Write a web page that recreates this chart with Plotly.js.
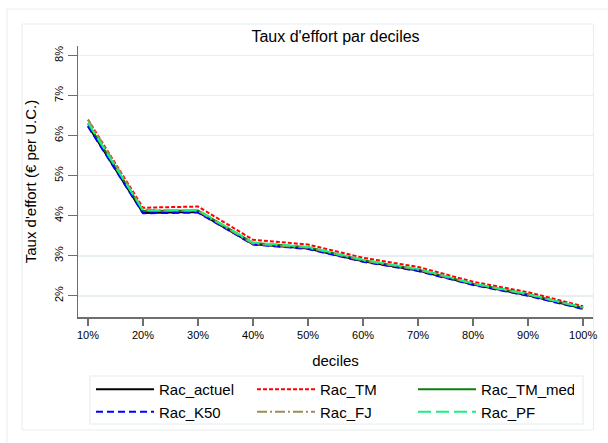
<!DOCTYPE html>
<html>
<head>
<meta charset="utf-8">
<script src="https://cdn.plot.ly/plotly-3.0.1.min.js"></script>
<style>
html,body{margin:0;padding:0;background:#fff;}
#chart{width:608px;height:443px;}
</style>
</head>
<body>
<div id="chart"></div>
<script>
// Data (percent)
var deciles = [10, 20, 30, 40, 50, 60, 70, 80, 90, 100];
var decileLabels = ['10%', '20%', '30%', '40%', '50%', '60%', '70%', '80%', '90%', '100%'];
var seriesNames = ['Rac_actuel', 'Rac_TM', 'Rac_TM_med', 'Rac_K50', 'Rac_FJ', 'Rac_PF'];
var Rac_actuel = [6.25, 4.07, 4.09, 3.29, 3.18, 2.86, 2.63, 2.28, 2.01, 1.68];
var Rac_TM     = [6.40, 4.20, 4.23, 3.40, 3.28, 2.95, 2.72, 2.35, 2.09, 1.74];
var Rac_TM_med = [6.30, 4.12, 4.13, 3.32, 3.21, 2.89, 2.66, 2.30, 2.04, 1.70];
var Rac_K50    = [6.23, 4.06, 4.08, 3.28, 3.17, 2.85, 2.62, 2.27, 2.00, 1.67];
var Rac_FJ     = [6.40, 4.15, 4.12, 3.30, 3.20, 2.88, 2.65, 2.30, 2.03, 1.70];
var Rac_PF     = [6.32, 4.13, 4.14, 3.33, 3.22, 2.90, 2.67, 2.31, 2.04, 1.71];
var yTicks = [2, 3, 4, 5, 6, 7, 8];
var yTickLabels = ['2%', '3%', '4%', '5%', '6%', '7%', '8%'];

var values = [Rac_actuel, Rac_TM, Rac_TM_med, Rac_K50, Rac_FJ, Rac_PF];
var colors = ['#000000', '#ff0000', '#0a800a', '#0000ff', '#a08c5a', '#19f07f'];
var dashes = ['solid', '4px,2px', 'solid', '7px,4px', '10px,3px,2px,3px', '13px,5px'];

var traces = seriesNames.map(function (name, i) {
  return {
    x: deciles, y: values[i], name: name, type: 'scatter', mode: 'lines',
    line: {color: colors[i], width: 2, dash: dashes[i]}
  };
});

// pixel -> paper helpers for decorative frames
var L = 78, R = 15, T = 46, B = 126, W = 608, H = 443;
var pw = W - L - R, ph = H - T - B;
function px(x) { return (x - L) / pw; }
function py(y) { return (H - B - y) / ph; }

var frameColor = '#e8eeee';
var layout = {
  width: W, height: H,
  margin: {l: L, r: R, t: T, b: B, pad: 0, autoexpand: false},
  paper_bgcolor: '#ffffff', plot_bgcolor: '#ffffff',
  font: {family: 'Liberation Sans, Arial, sans-serif', color: '#000', size: 11},
  title: {text: "Taux d'effort par deciles", font: {size: 16, color: '#000'},
          x: 0.5, xref: 'paper', xanchor: 'center', y: 1 - 36 / H, yref: 'container', yanchor: 'middle'},
  showlegend: true,
  legend: {orientation: 'h', x: px(91), xanchor: 'left', y: py(373), yanchor: 'top',
           entrywidth: 88, entrywidthmode: 'pixels', itemwidth: 58,
           font: {size: 15, color: '#000'}, bgcolor: 'rgba(0,0,0,0)', borderwidth: 0,
           traceorder: 'normal'},
  xaxis: {
    range: [8.18, 101.8], tickmode: 'array', tickvals: deciles, ticktext: decileLabels,
    showgrid: false, zeroline: false,
    showline: true, linecolor: '#6e6e6e', linewidth: 1.5,
    ticks: 'outside', ticklen: 7, tickwidth: 1.2, tickcolor: '#6e6e6e',
    tickfont: {size: 11},
    title: {text: 'deciles', font: {size: 15}, standoff: 16}
  },
  yaxis: {
    range: [1.47, 8.24], tickmode: 'array', tickvals: yTicks, ticktext: yTickLabels, tickangle: -90,
    showgrid: true, gridcolor: '#e6eef2', gridwidth: 1.5, zeroline: false,
    showline: true, linecolor: '#6e6e6e', linewidth: 1.5,
    ticks: 'outside', ticklen: 9, tickwidth: 1.2, tickcolor: '#6e6e6e',
    tickfont: {size: 11},
    title: {text: "Taux d'effort (€ per U.C.)", font: {size: 15}, standoff: 13}
  },
  shapes: [
    {type: 'rect', xref: 'paper', yref: 'paper', x0: px(7), x1: px(640), y0: py(9), y1: py(480),
     line: {color: frameColor, width: 1}, fillcolor: 'rgba(0,0,0,0)', layer: 'below'},
    {type: 'rect', xref: 'paper', yref: 'paper', x0: px(22), x1: px(593.5), y0: py(24), y1: py(430),
     line: {color: frameColor, width: 1}, fillcolor: 'rgba(0,0,0,0)', layer: 'below'},
    {type: 'rect', xref: 'paper', yref: 'paper', x0: px(90), x1: px(583), y0: py(376), y1: py(424),
     line: {color: frameColor, width: 1.2}, fillcolor: 'rgba(0,0,0,0)', layer: 'below'}
  ]
};

Plotly.newPlot('chart', traces, layout, {displayModeBar: false, staticPlot: true});
</script>
</body>
</html>
